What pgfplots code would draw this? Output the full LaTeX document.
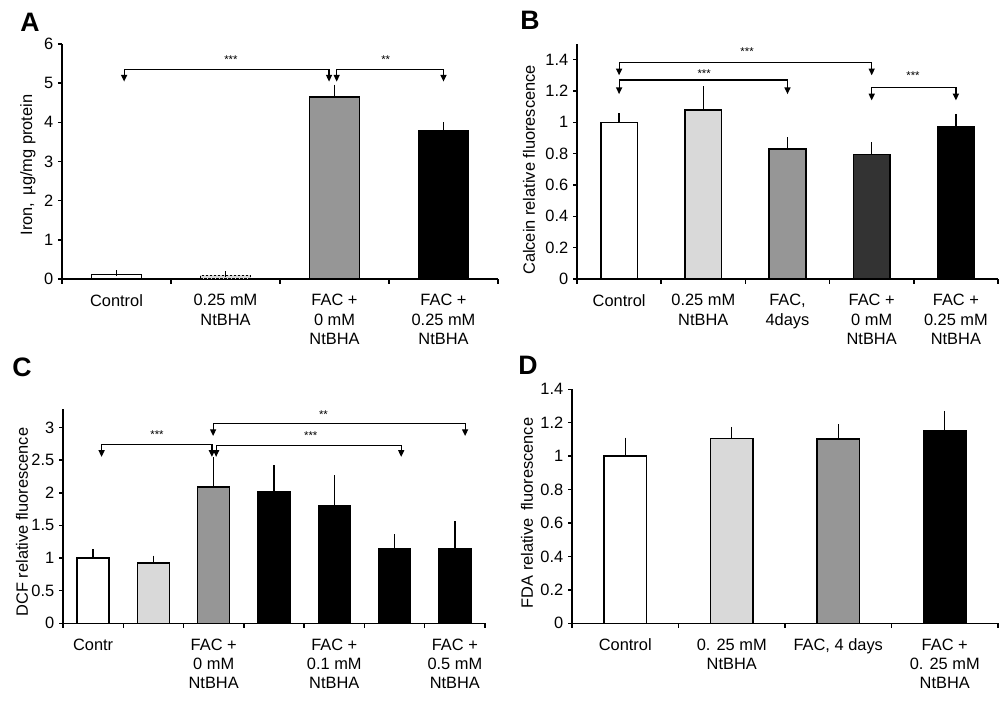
\documentclass[border=0pt]{standalone}
\usepackage{fontspec}
\setmainfont{Liberation Sans}
\usepackage{pgfplots}
\pgfplotsset{compat=1.18}
\usetikzlibrary{arrows.meta}
\definecolor{lgray}{gray}{0.85}
\definecolor{mgray}{gray}{0.59}
\definecolor{dgray}{gray}{0.2}
\newcommand\fs{\fontsize{12.3}{14.5}\selectfont}
\newcommand\brk[4]{%
  \draw[line width=0.9pt,{Triangle[length=5pt,width=4.5pt]}-{Triangle[length=5pt,width=4.5pt]}]
    (axis cs:#1,#4) -- (axis cs:#1,#3) -- (axis cs:#2,#3) -- (axis cs:#2,#4);}
\newcommand\stars[3]{\node[font=\fontsize{8.5}{9}\selectfont] at (axis cs:#1,#2) {#3};}

\pgfplotsset{
  panel/.style={
    scale only axis, axis lines*=left, clip=false, ymin=0,
    axis line style={line width=1.1pt},
    tick align=outside, major tick length=3pt, minor tick length=3.5pt,
    tick style={line width=1.1pt, black},
    every major x tick/.append style={draw=none},
    tick label style={font=\fs},
    xticklabel style={align=center, yshift=-5pt},
    /pgf/number format/assume math mode=true,
    every axis plot/.append style={
      ybar, bar shift=0pt, draw=black, line width=1.1pt,
      error bars/y dir=plus, error bars/y explicit,
      error bars/error bar style={line width=1pt},
      error bars/error mark options={mark size=2.2pt, line width=1pt}},
  },
}

\begin{document}
\begin{tikzpicture}
\useasboundingbox (0,0) rectangle (751.5pt,527.25pt);

% panel letters and y labels
\node[font=\fontsize{20}{22}\selectfont\bfseries] at (22.5pt,510.75pt) {A};
\node[font=\fontsize{20}{22}\selectfont\bfseries] at (397.5pt,512.25pt) {B};
\node[font=\fontsize{20}{22}\selectfont\bfseries] at (16.5pt,252pt) {C};
\node[font=\fontsize{20}{22}\selectfont\bfseries] at (396pt,253.5pt) {D};
\node[font=\fs, rotate=90] at (21pt,403.5pt) {Iron,\, µg/mg protein};
\node[font=\fs, rotate=90] at (396.75pt,399.75pt) {Calcein relative fluorescence};
\node[font=\fs, rotate=90] at (16.5pt,135.75pt) {DCF relative fluorescence};
\node[font=\fs, rotate=90] at (395.25pt,142.5pt) {FDA relative\, fluorescence};

% A
\begin{axis}[panel, at={(46.5pt,318pt)}, anchor=south west,
  width=327pt, height=176.25pt, xmin=0.5, xmax=4.5, ymax=6,
  ytick={0,1,...,6}, xtick={1,2,3,4},
  minor xtick={0.5,1.5,...,4.5},
  xticklabels={Control, {0.25 mM\\NtBHA}, {FAC +\\0 mM\\NtBHA}, {FAC +\\0.25 mM\\NtBHA}},
  every axis plot/.append style={bar width=0.46}]
\addplot[fill=white] coordinates {(1,0.12) +- (0,0.03)};
\addplot[fill=lgray, dash pattern=on 2pt off 1pt] coordinates {(2,0.09) +- (0,0.03)};
\addplot[fill=mgray] coordinates {(3,4.65) +- (0,0.24)};
\addplot[fill=black] coordinates {(4,3.78) +- (0,0.15)};
\brk{1.07}{2.95}{5.35}{5.04}
\brk{3.02}{4.0}{5.35}{5.04}
\stars{2.05}{5.6}{***}
\stars{3.47}{5.6}{**}
\end{axis}

% B
\begin{axis}[panel, at={(432.75pt,318pt)}, anchor=south west,
  width=315.75pt, height=176.25pt, xmin=0.5, xmax=5.5, ymax=1.5,
  ytick={0,0.2,...,1.4}, xtick={1,2,3,4,5},
  minor xtick={0.5,1.5,...,5.5},
  xticklabels={Control, {0.25 mM\\NtBHA}, {FAC,\\4days}, {FAC +\\0 mM\\NtBHA}, {FAC +\\0.25 mM\\NtBHA}},
  every axis plot/.append style={bar width=0.435}]
\addplot[fill=white] coordinates {(1,1.0) +- (0,0.04)};
\addplot[fill=lgray] coordinates {(2,1.08) +- (0,0.13)};
\addplot[fill=mgray] coordinates {(3,0.83) +- (0,0.055)};
\addplot[fill=dgray] coordinates {(4,0.795) +- (0,0.06)};
\addplot[fill=black] coordinates {(5,0.97) +- (0,0.065)};
\brk{1.0}{4.0}{1.383}{1.30}
\brk{1.0}{3.0}{1.27}{1.18}
\brk{4.0}{5.0}{1.22}{1.14}
\stars{2.52}{1.45}{***}
\stars{2.01}{1.31}{***}
\stars{4.49}{1.30}{***}
\end{axis}

% C
\begin{axis}[panel, at={(47.25pt,59.8pt)}, anchor=south west,
  width=316.5pt, height=160.5pt, xmin=0.5, xmax=7.5, ymax=3.28,
  ytick={0,0.5,...,3}, xtick={1,3,5,7},
  minor xtick={0.5,1.5,...,7.5},
  xticklabels={Contr, {FAC +\\0 mM\\NtBHA}, {FAC +\\0.1 mM\\NtBHA}, {FAC +\\0.5 mM\\NtBHA}},
  every axis plot/.append style={bar width=0.53}]
\addplot[fill=white] coordinates {(1,1.0) +- (0,0.09)};
\addplot[fill=lgray] coordinates {(2,0.925) +- (0,0.065)};
\addplot[fill=mgray] coordinates {(3,2.09) +- (0,0.41)};
\addplot[fill=black] coordinates {(4,2.01) +- (0,0.37)};
\addplot[fill=black] coordinates {(5,1.80) +- (0,0.42)};
\addplot[fill=black] coordinates {(6,1.145) +- (0,0.175)};
\addplot[fill=black] coordinates {(7,1.135) +- (0,0.385)};
\brk{1.14}{2.97}{2.74}{2.55}
\brk{3.04}{6.11}{2.73}{2.55}
\brk{2.99}{7.17}{3.06}{2.87}
\stars{2.06}{2.89}{***}
\stars{4.61}{2.87}{***}
\stars{4.82}{3.2}{**}
\end{axis}

% D
\begin{axis}[panel, at={(429pt,59.8pt)}, anchor=south west,
  width=319.5pt, height=175.5pt, xmin=0.5, xmax=4.5, ymax=1.4,
  ytick={0,0.2,...,1.4}, xtick={1,2,3,4},
  minor xtick={0.5,1.5,...,4.5},
  xticklabels={Control, {0. 25 mM\\NtBHA}, {FAC, 4 days}, {FAC +\\0. 25 mM\\NtBHA}},
  every axis plot/.append style={bar width=0.40}]
\addplot[fill=white] coordinates {(1,1.0) +- (0,0.093)};
\addplot[fill=lgray] coordinates {(2,1.105) +- (0,0.052)};
\addplot[fill=mgray] coordinates {(3,1.103) +- (0,0.07)};
\addplot[fill=black] coordinates {(4,1.153) +- (0,0.10)};
\end{axis}
\end{tikzpicture}
\end{document}
